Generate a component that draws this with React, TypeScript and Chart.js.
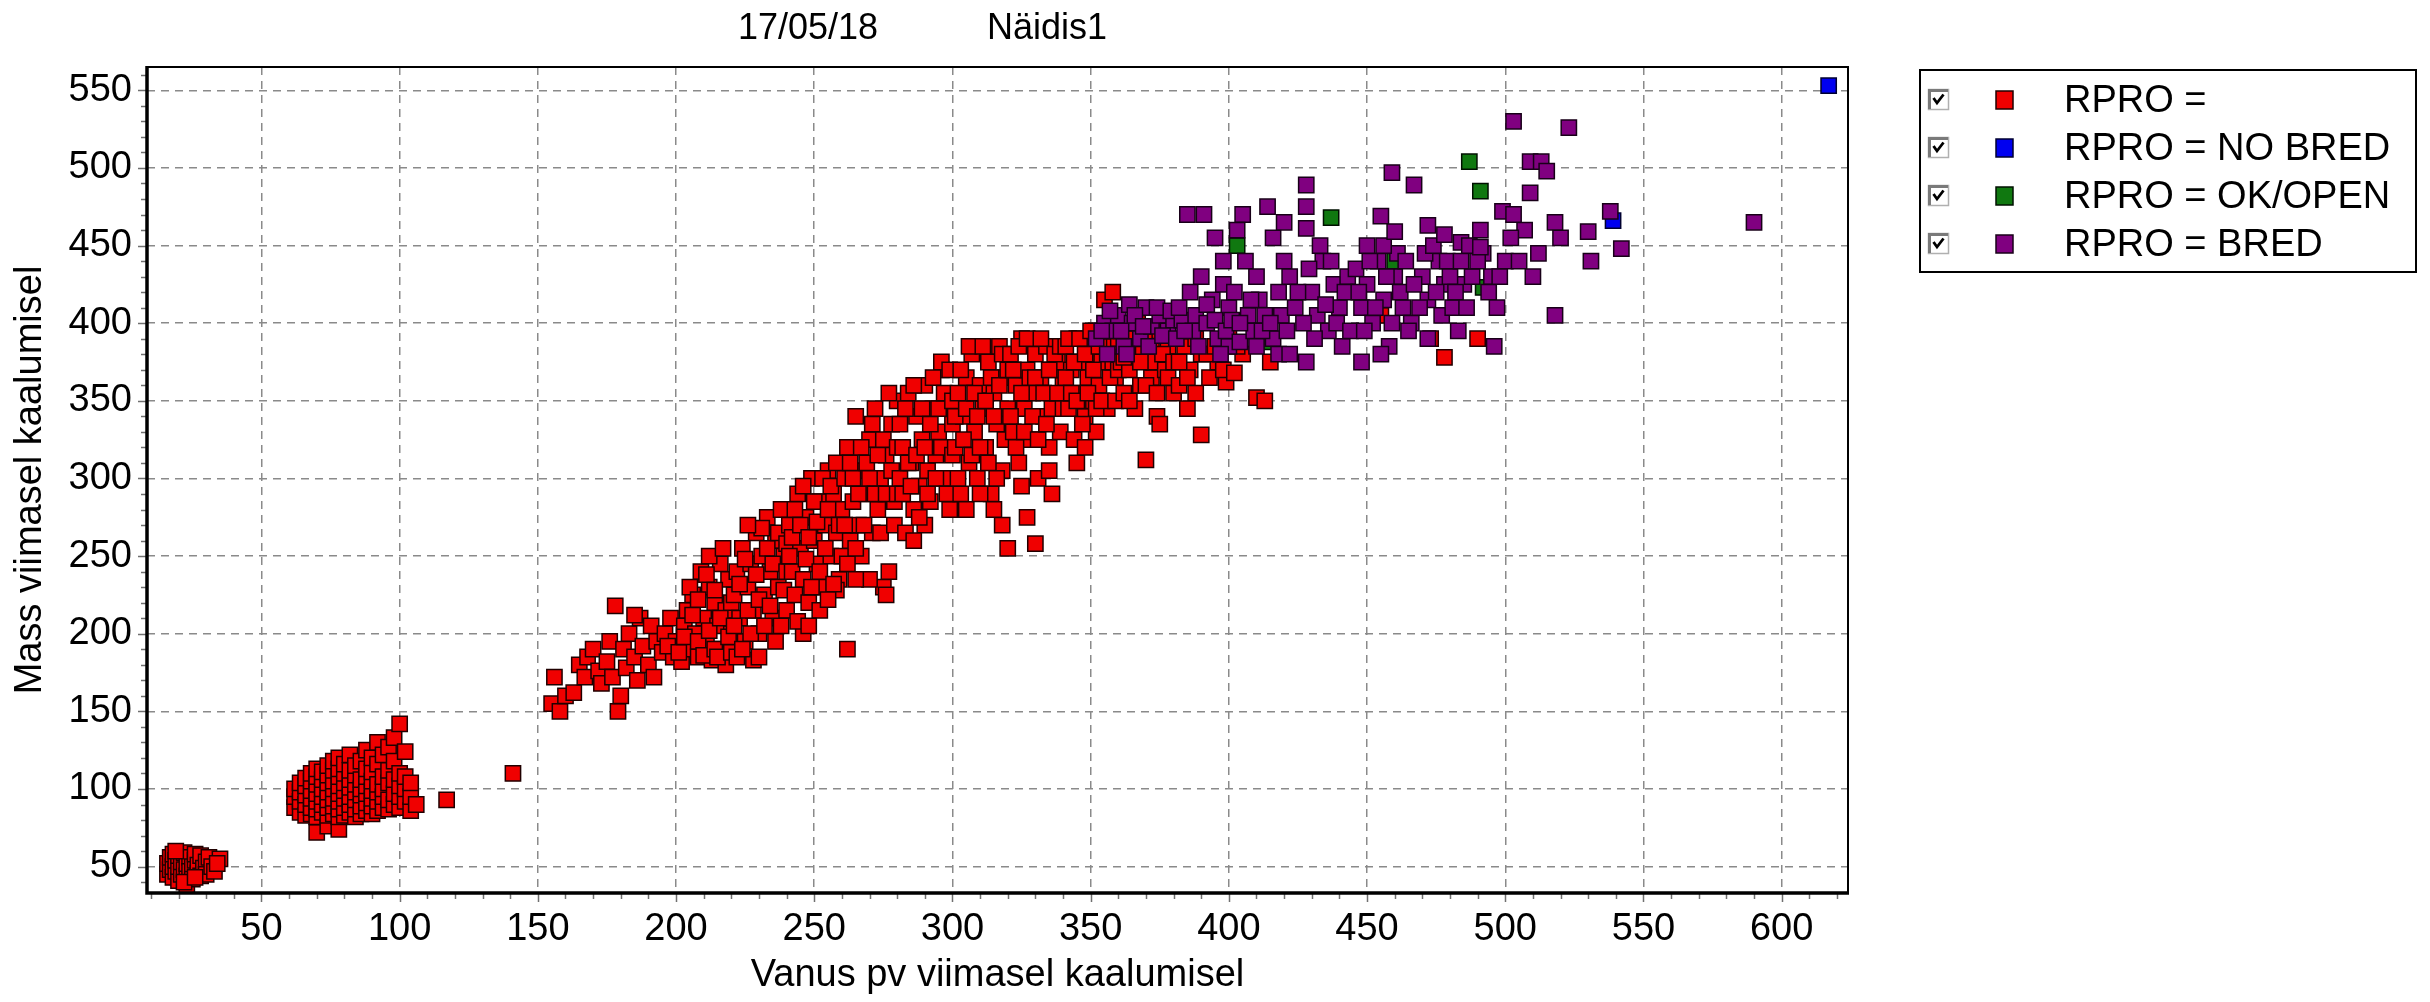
import React, { useEffect, useRef } from "react";
import { Chart, registerables } from "chart.js";

Chart.register(...registerables);

// ---------- text ----------
const TITLE_DATE = "17/05/18";
const TITLE_SAMPLE = "Näidis1";
const X_TITLE = "Vanus pv viimasel kaalumisel";
const Y_TITLE = "Mass viimasel kaalumisel";
const SERIES_LABELS = ["RPRO =", "RPRO = NO BRED", "RPRO = OK/OPEN", "RPRO = BRED"];
const SERIES_FILL = ["#f00000", "#0000f0", "#107810", "#800080"];
const SERIES_EDGE = ["#200000", "#000030", "#001000", "#180018"];

// ---------- axes ----------
const X_MIN = 8.6;
const X_MAX = 624;
const Y_MIN = 33;
const Y_MAX = 565;
const TICK_STEP = 50;

// ---------- data: [age in days, mass kg] ----------
const rproEmpty: [number, number][] = [
  // youngest calves
  [16,45],[16,52],[17,48],[17,56],[18,43],[18,50],[18,58],[19,47],[19,54],[20,41],[20,50],[20,57],[21,45],[21,53],[22,48],[22,59],[23,38],[23,44],[23,52],[24,56],[24,47],[25,50],[25,42],[26,54],[26,58],[27,46],[27,51],[28,44],[28,57],[29,49],[30,53],[30,45],[31,56],[32,50],[33,47],[35,55],[34,52],[19,60],[22,40],[26,43],
  // weaning group
  [62,88],[62,95],[62,100],[64,85],[64,92],[64,98],[64,104],[66,83],[66,90],[66,96],[66,102],[66,107],[68,84],[68,88],[68,94],[68,99],[68,105],[68,110],
  [70,72],[70,82],[70,87],[70,92],[70,97],[70,103],[70,108],[70,113],[72,85],[72,90],[72,95],[72,100],[72,106],[72,111],
  [74,76],[74,83],[74,88],[74,93],[74,98],[74,104],[74,109],[74,115],[76,84],[76,89],[76,94],[76,100],[76,105],[76,112],[76,118],
  [78,74],[78,82],[78,87],[78,92],[78,97],[78,102],[78,108],[78,113],[78,120],[80,83],[80,88],[80,94],[80,99],[80,104],[80,110],[80,116],
  [82,85],[82,90],[82,95],[82,101],[82,106],[82,112],[82,122],[84,82],[84,87],[84,93],[84,98],[84,103],[84,109],[84,115],
  [86,84],[86,89],[86,96],[86,100],[86,106],[86,118],[88,86],[88,91],[88,97],[88,102],[88,108],[88,113],[88,125],
  [90,84],[90,89],[90,94],[90,99],[90,105],[90,111],[90,120],[92,86],[92,92],[92,98],[92,103],[92,116],[92,130],
  [94,88],[94,95],[94,100],[94,108],[94,122],[96,87],[96,93],[96,104],[96,112],[96,127],[98,90],[98,97],[98,106],[98,118],[98,133],
  [100,88],[100,95],[100,102],[100,110],[100,142],[102,92],[102,100],[102,108],[102,124],[104,86],[104,95],[104,104],[106,90],
  [117,93],[141,110],
  // growing heifers
  [155,155],[156,172],[158,150],[160,160],
  [163,162],[165,180],[167,172],[168,185],[170,190],[172,176],[173,168],[175,182],[176,195],[177,172],[178,218],[179,150],[180,160],
  [181,190],[182,178],[183,200],[185,185],[186,170],[187,210],[188,192],[190,180],[191,205],[193,195],[195,188],[196,200],[198,210],[199,185],[192,172],[185,212],
  [200,195],[202,182],[203,205],[204,215],[205,190],[206,225],[207,200],[208,185],[209,240],[210,210],[211,195],[212,230],[213,183],[214,220],[215,205],[216,245],[217,190],[218,215],[219,235],[220,200],[212,250],[218,180],
  [197,192],[201,188],[203,198],[206,212],[208,195],[210,186],[212,202],[214,190],[216,210],[219,198],[220,220],[205,230],[208,222],[211,238],[214,228],[217,255],[215,185],[220,188],
  [221,225],[222,240],[223,210],[224,255],[225,195],[226,230],[227,245],[228,215],[229,265],[230,200],[231,250],[232,225],[233,275],[234,240],[235,210],[236,260],[237,230],[238,280],[239,250],[240,215],[222,185],[228,183],[236,195],
  [221,205],[223,232],[224,190],[225,248],[226,215],[227,200],[229,238],[230,222],[231,268],[232,205],[233,255],[234,218],[235,245],[237,265],[238,205],[239,228],[240,258],[240,240],[226,270],[230,185],
  [241,270],[242,240],[243,225],[244,290],[245,255],[246,235],[247,275],[248,220],[249,300],[250,260],[251,245],[252,285],[253,230],[254,270],[255,305],[256,250],[257,290],[258,265],[259,235],[260,280],[246,200],[252,215],[258,228],
  [241,250],[242,262],[243,280],[244,208],[245,270],[246,295],[247,248],[248,262],[249,230],[250,285],[251,272],[252,240],[253,300],[254,255],[255,280],[256,295],[257,232],[258,310],[259,270],[260,250],[255,222],[248,205],
  [261,300],[262,190],[262,320],[263,260],[264,285],[265,340],[266,270],[267,250],[268,305],[269,290],[270,325],[271,265],[272,345],[273,280],[274,300],[275,230],[276,315],[277,240],[278,335],[279,285],[280,350],[270,235],[276,225],
  [261,270],[262,245],[263,310],[264,300],[265,255],[266,290],[267,320],[268,270],[269,310],[270,300],[271,335],[272,290],[273,315],[274,265],[275,325],[276,290],[277,355],[278,305],[279,270],[280,320],[265,235],[280,290],
  [281,300],[282,320],[283,265],[284,355],[285,310],[286,280],[287,340],[288,295],[289,325],[290,360],[291,305],[292,285],[293,345],[294,315],[295,330],[296,370],[297,300],[298,350],[299,280],[300,335],[290,270],[296,375],
  [281,335],[282,290],[283,345],[284,310],[285,295],[286,360],[287,315],[288,275],[289,345],[290,320],[291,290],[292,335],[293,365],[294,300],[295,345],[296,320],[297,355],[298,290],[299,370],[300,315],[300,350],[286,260],
  [301,320],[302,355],[303,290],[304,340],[305,365],[306,310],[307,380],[308,330],[309,300],[310,360],[311,345],[312,320],[313,375],[314,290],[315,355],[316,335],[317,385],[318,305],[319,365],[320,345],[305,280],[318,270],[320,255],
  [301,340],[302,300],[303,370],[304,325],[305,345],[306,385],[307,315],[308,355],[309,340],[310,320],[311,385],[312,350],[313,310],[314,365],[315,340],[316,300],[317,360],[318,380],[319,325],[320,370],[310,290],[315,280],
  [321,380],[322,330],[323,360],[324,310],[325,390],[326,345],[327,370],[328,325],[329,355],[330,380],[331,300],[332,365],[333,340],[334,385],[335,320],[336,370],[337,350],[338,375],[339,330],[340,360],[330,258],[336,290],[327,275],
  [321,340],[322,370],[323,320],[324,385],[325,355],[326,330],[327,390],[328,365],[329,340],[330,365],[331,325],[332,390],[333,355],[334,335],[335,370],[336,345],[337,380],[338,355],[339,385],[340,345],[325,295],[335,305],
  [341,385],[342,345],[343,370],[344,325],[345,390],[346,355],[347,375],[348,340],[349,365],[350,380],[351,350],[352,395],[353,360],[354,375],[355,415],[356,345],[357,385],[358,420],[359,365],[360,390],[345,310],[352,330],
  [341,365],[342,390],[343,355],[344,375],[345,350],[346,390],[347,335],[348,380],[349,355],[350,395],[351,370],[352,345],[353,385],[354,350],[356,395],[357,365],[358,375],[359,350],[360,370],[348,320],
  [361,375],[362,355],[363,395],[364,370],[365,385],[366,345],[367,400],[368,360],[369,380],[370,312],[371,390],[372,365],[373,375],[374,340],[375,395],[377,370],[378,385],[380,355],
  [362,378],[364,350],[366,390],[368,375],[370,360],[372,385],[374,355],[376,380],[378,365],[380,375],[382,360],[384,385],[386,370],[388,355],[390,380],[393,365],[396,375],[399,362],[375,335],[385,345],
  [382,375],[385,365],[388,390],[390,328],[392,380],[395,385],[398,370],[400,395],[402,368],[405,380],[410,352],[413,350],[415,375],[403,385],
  [455,405],[473,390],[478,378],[490,390]
];

const rproNoBred: [number, number][] = [
  [617,553],[539,466]
];

const rproOkOpen: [number, number][] = [
  [403,450],[413,388],[437,468],[460,440],[487,504],[491,485],[492,423]
];

const rproBred: [number, number][] = [
  [352,390],[355,400],[358,395],[360,405],[362,385],[365,400],[368,390],[370,410],[372,398],[375,405],[378,395],[380,402],[356,380],[364,412],
  [354,395],[357,408],[361,395],[363,380],[366,405],[369,398],[371,385],[374,410],[376,392],[379,408],[381,390],[383,402],[387,395],[389,385],
  [382,410],[384,395],[386,420],[388,405],[390,430],[392,400],[394,415],[396,390],[398,425],[400,410],[385,470],[391,470],[395,455],[398,440],[400,385],
  [392,412],[395,402],[397,380],[399,395],[401,402],[404,388],[407,405],[409,395],[411,415],[413,405],[416,390],[419,405],
  [402,420],[404,400],[406,440],[408,415],[410,430],[412,395],[414,475],[416,455],[418,420],[420,440],[405,470],[410,385],[415,400],[418,380],[403,460],[420,465],
  [422,430],[424,410],[430,420],[432,405],[434,440],[436,395],[438,425],[440,410],[422,380],[428,375],
  [421,395],[425,420],[427,400],[429,435],[431,390],[435,412],[437,440],[439,400],[441,385],[443,430],
  [442,420],[444,395],[446,435],[448,410],[450,425],[452,400],[454,440],[456,415],[458,385],[460,430],[455,380],[448,375],
  [447,420],[449,395],[451,440],[453,410],[457,430],[459,400],[461,445],[463,410],
  [462,420],[464,440],[466,400],[470,430],[472,415],[476,440],[478,425],[465,395],[472,390],
  [467,425],[469,410],[471,445],[475,420],[477,405],[479,440],[481,410],[485,425],[488,430],[492,445],[495,430],[500,440],[507,460],[512,445],
  [480,430],[482,420],[484,440],[486,410],[490,440],[494,420],[498,430],[483,395],[496,385],[497,410],
  [502,455],[505,440],[510,430],[518,405],[531,440],[520,455],
  [428,489],[428,475],[428,461],[433,450],[450,450],[455,469],[456,450],[459,497],[460,459],[467,489],[472,463],[474,450],[478,457],[484,452],[487,450],[491,460],[491,449],
  [499,472],[503,470],[503,530],[509,504],[509,484],[513,504],[515,498],[518,465],[523,526],[530,459],[538,472],[542,448],[590,465]
];

const SERIES = [rproEmpty, rproNoBred, rproOkOpen, rproBred];

const FONT = "Liberation Sans, Arial, Helvetica, sans-serif";

const decorPlugin = {
  id: "decor",
  afterDraw(chart: any) {
    const { ctx, chartArea: ca, scales } = chart;
    const xs = scales.x;
    const ys = scales.y;
    ctx.save();

    // minor / major tick marks outside the axes
    ctx.strokeStyle = "#707070";
    ctx.lineWidth = 1.5;
    ctx.beginPath();
    for (let v = Math.ceil(X_MIN / 10) * 10; v <= X_MAX; v += 10) {
      const px = Math.round(xs.getPixelForValue(v)) + 0.5;
      const len = v % 50 === 0 ? 9 : 6;
      ctx.moveTo(px, ca.bottom);
      ctx.lineTo(px, ca.bottom + len);
    }
    for (let v = Math.ceil(Y_MIN / 10) * 10; v <= Y_MAX; v += 10) {
      const py = Math.round(ys.getPixelForValue(v)) + 0.5;
      const len = v % 50 === 0 ? 9 : 6;
      ctx.moveTo(ca.left, py);
      ctx.lineTo(ca.left - len, py);
    }
    ctx.stroke();

    // frame: thin top / right, thick left / bottom
    ctx.strokeStyle = "#000";
    ctx.lineWidth = 2;
    ctx.beginPath();
    ctx.moveTo(ca.left, ca.top);
    ctx.lineTo(ca.right, ca.top);
    ctx.lineTo(ca.right, ca.bottom);
    ctx.stroke();
    ctx.lineWidth = 3.5;
    ctx.beginPath();
    ctx.moveTo(ca.left, ca.top - 1);
    ctx.lineTo(ca.left, ca.bottom);
    ctx.lineTo(ca.right + 1, ca.bottom);
    ctx.stroke();

    // header
    ctx.fillStyle = "#000";
    ctx.font = `36px ${FONT}`;
    ctx.textBaseline = "alphabetic";
    ctx.textAlign = "left";
    ctx.fillText(TITLE_DATE, 738, 39);
    ctx.fillText(TITLE_SAMPLE, 987, 39);

    // axis titles
    ctx.font = `38px ${FONT}`;
    ctx.textAlign = "center";
    ctx.textBaseline = "middle";
    ctx.fillText(X_TITLE, (ca.left + ca.right) / 2, 976);
    ctx.save();
    ctx.translate(31, (ca.top + ca.bottom) / 2);
    ctx.rotate(-Math.PI / 2);
    ctx.fillText(Y_TITLE, 0, 0);
    ctx.restore();

    // legend box
    const bx = 1920, by = 70, bw = 496, bh = 202;
    ctx.fillStyle = "#fff";
    ctx.fillRect(bx, by, bw, bh);
    ctx.strokeStyle = "#000";
    ctx.lineWidth = 2;
    ctx.strokeRect(bx, by, bw, bh);
    const rows = [100, 148, 196, 244];
    SERIES_LABELS.forEach((label, i) => {
      const cy = rows[i];
      // checkbox
      const cbx = 1928, cby = cy - 11, cbs = 21;
      ctx.fillStyle = "#fff";
      ctx.fillRect(cbx, cby, cbs, cbs);
      ctx.strokeStyle = "#b0b0b0";
      ctx.lineWidth = 1.5;
      ctx.strokeRect(cbx + 0.5, cby + 0.5, cbs - 1, cbs - 1);
      ctx.strokeStyle = "#7a7a7a";
      ctx.lineWidth = 3;
      ctx.beginPath();
      ctx.moveTo(cbx + 1.5, cby + cbs - 1);
      ctx.lineTo(cbx + 1.5, cby + 1.5);
      ctx.lineTo(cbx + cbs - 1, cby + 1.5);
      ctx.stroke();
      ctx.strokeStyle = "#000";
      ctx.lineWidth = 2.8;
      ctx.beginPath();
      ctx.moveTo(cbx + 5.5, cby + 9);
      ctx.lineTo(cbx + 9, cby + 14);
      ctx.lineTo(cbx + 15.5, cby + 5.5);
      ctx.stroke();
      // marker
      ctx.fillStyle = SERIES_FILL[i];
      ctx.fillRect(1996, cy - 9, 17, 18);
      ctx.strokeStyle = SERIES_EDGE[i];
      ctx.lineWidth = 1.5;
      ctx.strokeRect(1996, cy - 9, 17, 18);
      // label
      ctx.fillStyle = "#000";
      ctx.font = `38px ${FONT}`;
      ctx.textAlign = "left";
      ctx.textBaseline = "middle";
      ctx.fillText(label, 2064, cy + 2);
    });

    ctx.restore();
  },
};

export default function App() {
  const canvasRef = useRef<HTMLCanvasElement | null>(null);

  useEffect(() => {
    document.body.style.margin = "0";
    const canvas = canvasRef.current;
    if (!canvas) return;

    const datasets = SERIES.map((pts, i) => ({
      label: SERIES_LABELS[i],
      data: pts.map(([x, y]) => ({ x, y })),
      pointStyle: "rect" as const,
      pointRadius: 10.8,
      pointBorderWidth: 1.5,
      backgroundColor: SERIES_FILL[i],
      borderColor: SERIES_EDGE[i],
      showLine: false,
      order: 4 - i,
    }));

    const chart = new Chart(canvas, {
      type: "scatter",
      data: { datasets },
      options: {
        animation: false,
        responsive: false,
        devicePixelRatio: 1,
        events: [],
        layout: { padding: { top: 67, right: 582, left: 0, bottom: 0 } },
        plugins: {
          legend: { display: false },
          title: { display: false },
          tooltip: { enabled: false },
        },
        scales: {
          x: {
            type: "linear",
            min: X_MIN,
            max: X_MAX,
            afterFit: (s: any) => { s.height = 109; },
            afterBuildTicks: (s: any) => { s.ticks = s.ticks.filter((t: any) => t.value % TICK_STEP === 0); },
            ticks: {
              stepSize: TICK_STEP,
              includeBounds: false,
              color: "#000",
              padding: 18,
              maxRotation: 0,
              autoSkip: false,
              font: { family: FONT, size: 38, lineHeight: 1 },
            },
            grid: { color: "#8a8a8a", lineWidth: 1.5, drawTicks: false },
            border: { display: false, dash: [8, 6] },
          },
          y: {
            type: "linear",
            min: Y_MIN,
            max: Y_MAX,
            afterFit: (s: any) => { s.width = 147; },
            afterBuildTicks: (s: any) => { s.ticks = s.ticks.filter((t: any) => t.value % TICK_STEP === 0); },
            ticks: {
              stepSize: TICK_STEP,
              includeBounds: false,
              color: "#000",
              padding: 15,
              autoSkip: false,
              font: { family: FONT, size: 38, lineHeight: 1 },
            },
            grid: { color: "#8a8a8a", lineWidth: 1.5, drawTicks: false },
            border: { display: false, dash: [8, 6] },
          },
        },
      },
      plugins: [decorPlugin],
    });

    return () => chart.destroy();
  }, []);

  return (
    <canvas
      ref={canvasRef}
      width={2430}
      height={1002}
      style={{ display: "block", width: "2430px", height: "1002px" }}
    />
  );
}
